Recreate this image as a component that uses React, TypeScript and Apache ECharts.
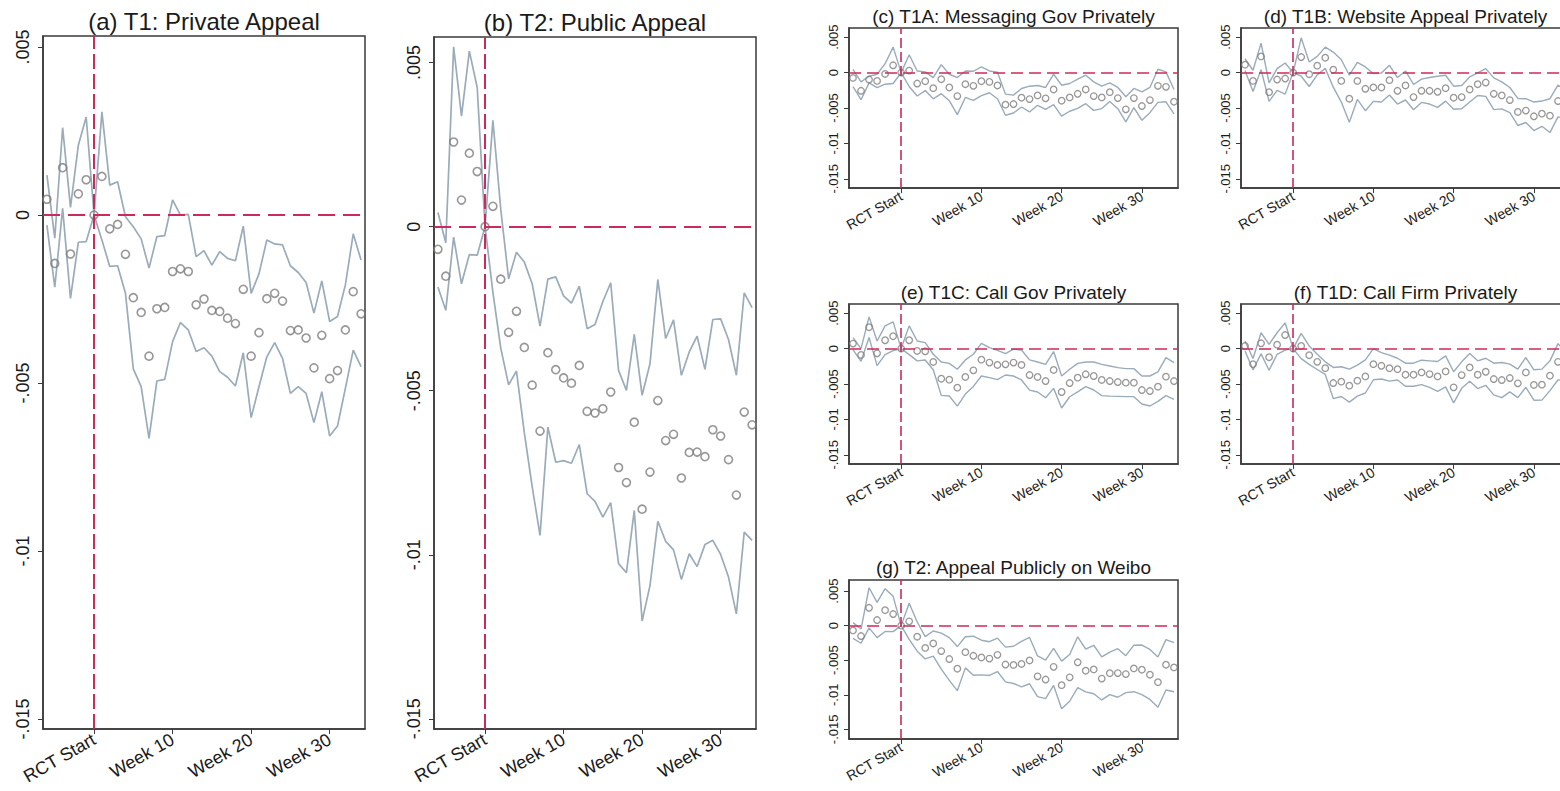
import React, { useEffect, useRef } from "react";
import * as echarts from "echarts";

// Weeks relative to RCT start
const weeks = [-6, -5, -4, -3, -2, -1, 0, 1, 2, 3, 4, 5, 6, 7, 8, 9, 10, 11, 12, 13, 14, 15, 16, 17, 18, 19, 20, 21, 22, 23, 24, 25, 26, 27, 28, 29, 30, 31, 32, 33, 34];

const xTickValues = [0, 10, 20, 30];
const xTickLabels = ["RCT Start", "Week 10", "Week 20", "Week 30"];
const yTickValues = [0.005, 0, -0.005, -0.01, -0.015];
const yTickLabels = [".005", "0", "-.005", "-.01", "-.015"];

// (a) T1: Private Appeal
const aPoint = [0.00047, -0.00144, 0.00141, -0.00116, 0.00063, 0.00105, 0, 0.00115, -0.00041, -0.00028, -0.00117, -0.00246, -0.0029, -0.0042, -0.00279, -0.00275, -0.00168, -0.0016, -0.00168, -0.00267, -0.0025, -0.00284, -0.00287, -0.00307, -0.00323, -0.00221, -0.0042, -0.0035, -0.00249, -0.00233, -0.00256, -0.00344, -0.00342, -0.00366, -0.00455, -0.00358, -0.00487, -0.00463, -0.00342, -0.00228, -0.00294];
const aUpper = [0.00119, -0.00069, 0.0026, 0.00023, 0.00208, 0.00292, 0, 0.00307, 0.00089, 0.00099, -0.00005, -0.00035, -0.00071, -0.00158, -0.00064, -0.00061, 0.00045, 0, 0.00002, -0.00124, -0.00106, -0.00149, -0.00109, -0.00129, -0.00136, -0.00033, -0.00233, -0.00175, -0.00074, -0.00086, -0.00089, -0.00151, -0.00171, -0.00201, -0.00292, -0.00196, -0.00317, -0.00302, -0.00208, -0.00056, -0.00134];
const aLower = [-0.0003, -0.00215, 0.0002, -0.00248, -0.00081, -0.00079, 0, -0.00074, -0.00153, -0.00151, -0.00233, -0.00458, -0.00511, -0.00665, -0.00494, -0.00489, -0.00377, -0.0032, -0.00342, -0.00406, -0.00395, -0.0042, -0.00466, -0.00483, -0.00509, -0.0041, -0.00603, -0.00511, -0.00422, -0.0038, -0.00427, -0.00531, -0.00511, -0.00531, -0.00618, -0.00526, -0.00658, -0.00628, -0.00516, -0.00402, -0.00451];

// (b) / (g) T2: Public Appeal
const bPoint = [-0.00069, -0.00151, 0.00258, 0.00081, 0.00224, 0.00168, 0, 0.00062, -0.0016, -0.00322, -0.00258, -0.00368, -0.00483, -0.00623, -0.00384, -0.00436, -0.00461, -0.00477, -0.00423, -0.00563, -0.00568, -0.00555, -0.00504, -0.00734, -0.0078, -0.00596, -0.00861, -0.00748, -0.0053, -0.00652, -0.00633, -0.00766, -0.00688, -0.00687, -0.00701, -0.00619, -0.00638, -0.0071, -0.00818, -0.00565, -0.00604];
const bUpper = [0.00043, -0.00049, 0.00548, 0.00337, 0.00535, 0.00424, 0, 0.00324, 0.00053, -0.00159, -0.00078, -0.00108, -0.00174, -0.00303, -0.0016, -0.00153, -0.00211, -0.00233, -0.00181, -0.00311, -0.00298, -0.00228, -0.00171, -0.00438, -0.00499, -0.00328, -0.00514, -0.00418, -0.00161, -0.00341, -0.00284, -0.00453, -0.00382, -0.00334, -0.00435, -0.00283, -0.00281, -0.00344, -0.00453, -0.00202, -0.00247];
const bLower = [-0.00184, -0.00255, -0.00032, -0.00174, -0.00085, -0.00087, 0, -0.002, -0.0037, -0.00482, -0.0044, -0.00628, -0.00792, -0.00941, -0.00611, -0.00718, -0.00713, -0.00721, -0.00664, -0.00814, -0.00837, -0.00885, -0.00841, -0.01027, -0.01055, -0.00865, -0.01202, -0.01094, -0.00898, -0.00959, -0.00985, -0.01075, -0.00997, -0.01036, -0.00969, -0.00956, -0.00999, -0.01068, -0.0118, -0.00931, -0.00956];

// (c) T1A: Messaging Gov Privately
const cPoint = [-0.00075, -0.00257, -0.00098, -0.00117, -0.00019, 0.00103, 0, 0.00028, -0.00154, -0.00122, -0.0022, -0.00093, -0.0021, -0.00332, -0.00164, -0.00187, -0.00122, -0.00131, -0.00182, -0.00453, -0.00444, -0.00355, -0.00374, -0.00322, -0.00364, -0.00238, -0.00397, -0.0035, -0.00299, -0.00238, -0.00332, -0.0035, -0.00276, -0.0036, -0.00519, -0.0036, -0.00472, -0.00388, -0.00187, -0.00201, -0.00411];
const cUpper = [0.00047, -0.00131, -0.00051, -0.00023, 0.00126, 0.0036, 0, 0.00252, 0.00023, 0.0001, -0.0007, 0.00112, -0.00023, -0.0007, 0.00023, 0.00019, 0.0008, 0.00023, 0.00005, -0.00304, -0.00318, -0.00224, -0.00192, -0.00182, -0.0021, -0.00023, -0.00178, -0.00154, -0.00093, -0.00037, -0.00131, -0.00192, -0.00145, -0.0021, -0.00341, -0.00224, -0.00271, -0.0021, 0.00047, 0.0001, -0.00238];
const cLower = [-0.00197, -0.00383, -0.00145, -0.00211, -0.00164, -0.00154, 0, -0.00196, -0.00331, -0.00254, -0.0037, -0.00298, -0.00397, -0.00594, -0.00351, -0.00393, -0.00324, -0.00285, -0.00369, -0.00602, -0.0057, -0.00486, -0.00556, -0.00462, -0.00518, -0.00453, -0.00616, -0.00546, -0.00505, -0.00439, -0.00533, -0.00508, -0.00407, -0.0051, -0.00697, -0.00496, -0.00673, -0.00566, -0.00421, -0.00412, -0.00584];

// (d) T1B: Website Appeal Privately
const dPoint = [0.00112, -0.00117, 0.00229, -0.00276, -0.00098, -0.00084, 0, 0.0022, -0.00023, 0.00098, 0.0021, 0.00042, -0.00117, -0.00369, -0.00117, -0.00229, -0.0021, -0.0021, -0.00107, -0.00257, -0.00182, -0.00346, -0.00257, -0.00257, -0.00271, -0.0022, -0.00355, -0.00346, -0.00238, -0.00164, -0.0014, -0.00299, -0.00322, -0.00388, -0.00556, -0.00537, -0.00617, -0.0058, -0.00608, -0.00402, -0.0045];
const dUpper = [0.00196, 0.00033, 0.00416, -0.00145, 0.00056, 0.00136, 0, 0.00491, 0.0015, 0.00229, 0.0036, 0.0029, 0.00182, -0.00037, 0.00145, 0.0008, -0.00014, -0.00005, 0.00103, -0.0007, 0.00023, -0.00168, -0.00093, -0.0007, -0.00051, -0.00037, -0.00192, -0.00182, -0.00061, -0.00005, 0.00056, -0.00075, -0.00131, -0.0021, -0.00365, -0.00369, -0.00416, -0.00402, -0.00369, -0.00178, -0.0025];
const dLower = [0.00028, -0.00267, 0.00042, -0.00407, -0.00252, -0.00304, 0, -0.00051, -0.00196, -0.00033, 0.0006, -0.00206, -0.00416, -0.00701, -0.00379, -0.00538, -0.00406, -0.00415, -0.00317, -0.00444, -0.00387, -0.00524, -0.00421, -0.00444, -0.00491, -0.00403, -0.00518, -0.0051, -0.00415, -0.00323, -0.00336, -0.00523, -0.00513, -0.00566, -0.00747, -0.00705, -0.00818, -0.00758, -0.00847, -0.00626, -0.0065];

// (e) T1C: Call Gov Privately
const ePoint = [0.00071, -0.0009, 0.00302, -0.00066, 0.00118, 0.00175, 0, 0.00118, -0.00033, -0.00038, -0.00189, -0.00425, -0.00439, -0.00552, -0.00401, -0.00307, -0.00156, -0.00198, -0.00231, -0.00222, -0.00198, -0.00231, -0.00373, -0.00401, -0.00458, -0.00302, -0.00613, -0.00486, -0.0041, -0.00363, -0.00387, -0.00443, -0.00458, -0.00472, -0.00481, -0.00481, -0.00585, -0.00599, -0.00538, -0.00396, -0.00458];
const eUpper = [0.00156, 0, 0.00448, 0.00108, 0.00321, 0.00377, 0, 0.00321, 0.00108, 0.00085, -0.0008, -0.00189, -0.00208, -0.00292, -0.0016, -0.0008, 0.00075, 0.00014, -0.00024, -0.00071, -0.00009, -0.00019, -0.0016, -0.00189, -0.00222, -0.00042, -0.00387, -0.00292, -0.00208, -0.00189, -0.00189, -0.00222, -0.00245, -0.00269, -0.00283, -0.00283, -0.00387, -0.00387, -0.0033, -0.00127, -0.00198];
const eLower = [-0.00014, -0.0018, 0.00156, -0.0024, -0.00085, -0.00027, 0, -0.00085, -0.00174, -0.00161, -0.00298, -0.00661, -0.0067, -0.00812, -0.00642, -0.00534, -0.00387, -0.0041, -0.00438, -0.00373, -0.00387, -0.00443, -0.00586, -0.00613, -0.00694, -0.00562, -0.00839, -0.0068, -0.00612, -0.00537, -0.00585, -0.00664, -0.00671, -0.00675, -0.00679, -0.00679, -0.00783, -0.00811, -0.00746, -0.00665, -0.00718];

// (f) T1D: Call Firm Privately
const fPoint = [0.00037, -0.0022, 0.00075, -0.00122, 0.00056, 0.00192, 0, 0.00037, -0.00093, -0.00187, -0.00276, -0.00486, -0.00467, -0.00523, -0.00453, -0.00393, -0.0022, -0.00243, -0.00276, -0.0029, -0.00369, -0.00369, -0.00336, -0.0036, -0.00393, -0.00322, -0.00547, -0.00374, -0.00266, -0.00369, -0.00327, -0.0043, -0.00444, -0.00416, -0.00491, -0.00336, -0.00514, -0.00509, -0.00383, -0.00187, -0.0025];
const fUpper = [0.00107, -0.0014, 0.00224, 0.00061, 0.00224, 0.00364, 0, 0.00215, 0.00037, -0.00079, -0.00187, -0.00266, -0.00257, -0.0029, -0.00234, -0.00159, 0, -0.00056, -0.00093, -0.00136, -0.00206, -0.00206, -0.00164, -0.00173, -0.00182, -0.00103, -0.00327, -0.00187, -0.0007, -0.00173, -0.00136, -0.00206, -0.00196, -0.0022, -0.0029, -0.00126, -0.00299, -0.0029, -0.00173, 0.0007, -0.0005];
const fLower = [-0.00033, -0.003, -0.00074, -0.00305, -0.0008, -0.0002, 0, -0.00141, -0.00223, -0.00295, -0.00365, -0.00706, -0.00677, -0.00756, -0.00672, -0.00627, -0.0044, -0.0043, -0.00459, -0.00444, -0.00532, -0.00532, -0.00508, -0.00547, -0.00604, -0.00541, -0.00767, -0.00561, -0.00462, -0.00565, -0.00518, -0.00654, -0.00692, -0.00612, -0.00692, -0.00546, -0.00729, -0.00728, -0.00593, -0.00444, -0.0045];

const FONT = "'Liberation Sans', Arial, Helvetica, sans-serif";
const CI_COLOR = "#9aabba";
const DOT_COLOR = "#7d7d7d";
const REF_COLOR = "#cc2a5a";
const FRAME = "#3a3a3a";

const panels = [
  { title: "(a) T1: Private Appeal", pt: aPoint, up: aUpper, lo: aLower, left: 43, top: 36, width: 322, height: 693, ymin: -0.0153, ymax: 0.00533, big: true, titleY: 21 },
  { title: "(b) T2: Public Appeal", pt: bPoint, up: bUpper, lo: bLower, left: 434, top: 37, width: 322, height: 692, ymin: -0.01531, ymax: 0.00578, big: true, titleY: 22 },
  { title: "(c) T1A: Messaging Gov Privately", pt: cPoint, up: cUpper, lo: cLower, left: 849, top: 28, width: 329, height: 160, ymin: -0.0163, ymax: 0.0063, big: false, titleY: 16 },
  { title: "(d) T1B: Website Appeal Privately", pt: dPoint, up: dUpper, lo: dLower, left: 1241, top: 28, width: 329, height: 160, ymin: -0.0163, ymax: 0.0063, big: false, titleY: 16 },
  { title: "(e) T1C: Call Gov Privately", pt: ePoint, up: eUpper, lo: eLower, left: 849, top: 304, width: 329, height: 160, ymin: -0.0163, ymax: 0.0063, big: false, titleY: 292 },
  { title: "(f) T1D: Call Firm Privately", pt: fPoint, up: fUpper, lo: fLower, left: 1241, top: 304, width: 329, height: 160, ymin: -0.0163, ymax: 0.0063, big: false, titleY: 292 },
  { title: "(g) T2: Appeal Publicly on Weibo", pt: bPoint, up: bUpper, lo: bLower, left: 849, top: 580, width: 329, height: 159, ymin: -0.0164, ymax: 0.0066, big: false, titleY: 567 },
];

function labelFor(values: number[], labels: string[], v: number) {
  for (let i = 0; i < values.length; i++) {
    if (Math.abs(values[i] - v) < 1e-9) return labels[i];
  }
  return "";
}

function buildOption() {
  const grid: any[] = [];
  const xAxis: any[] = [];
  const yAxis: any[] = [];
  const series: any[] = [];
  const graphic: any[] = [];

  panels.forEach((p, i) => {
    const big = p.big;
    grid.push({
      left: p.left,
      top: p.top,
      width: p.width,
      height: p.height,
      show: true,
      borderColor: FRAME,
      borderWidth: 1.5,
      backgroundColor: "#ffffff",
      containLabel: false,
    });
    xAxis.push({
      type: "value",
      gridIndex: i,
      min: -6.5,
      max: 34.5,
      axisLine: { show: true, onZero: false, lineStyle: { color: FRAME, width: 1.5 } },
      axisTick: { show: true, length: 5, customValues: xTickValues, lineStyle: { color: FRAME, width: 1 } },
      axisLabel: {
        customValues: xTickValues,
        formatter: (v: number) => labelFor(xTickValues, xTickLabels, v),
        rotate: 30,
        margin: big ? 9 : 7,
        fontSize: big ? 18 : 14,
        color: "#1a1a1a",
        fontFamily: FONT,
      },
      splitLine: { show: false },
    });
    yAxis.push({
      type: "value",
      gridIndex: i,
      min: p.ymin,
      max: p.ymax,
      axisLine: { show: true, onZero: false, lineStyle: { color: FRAME, width: 1.5 } },
      axisTick: { show: true, length: 5, customValues: yTickValues, lineStyle: { color: FRAME, width: 1 } },
      axisLabel: {
        customValues: yTickValues,
        formatter: (v: number) => labelFor(yTickValues, yTickLabels, v),
        rotate: 90,
        margin: big ? 11 : 9,
        fontSize: big ? 18 : 13,
        color: "#1a1a1a",
        fontFamily: FONT,
      },
      splitLine: { show: false },
    });

    // reference lines at RCT start and zero
    series.push({
      type: "line",
      xAxisIndex: i,
      yAxisIndex: i,
      data: [],
      z: 1,
      markLine: {
        silent: true,
        symbol: ["none", "none"],
        label: { show: false },
        data: [
          { xAxis: 0, lineStyle: { color: REF_COLOR, width: big ? 2 : 1.6, type: big ? [15, 5] : [10, 4] } },
          { yAxis: 0, lineStyle: { color: REF_COLOR, width: big ? 2 : 1.6, type: big ? [17, 8] : [12, 6] } },
        ],
      },
    });

    const upData = weeks.map((w, k) => [w, p.up[k]]);
    const loData = weeks.map((w, k) => [w, p.lo[k]]);
    const ptData = weeks.map((w, k) => [w, p.pt[k]]);

    [upData, loData].forEach((d) => {
      series.push({
        type: "line",
        xAxisIndex: i,
        yAxisIndex: i,
        data: d,
        showSymbol: false,
        symbol: "none",
        z: 2,
        lineStyle: { color: CI_COLOR, width: big ? 1.7 : 1.4 },
        silent: true,
      });
    });

    series.push({
      type: "scatter",
      xAxisIndex: i,
      yAxisIndex: i,
      data: ptData,
      symbol: "circle",
      symbolSize: big ? 8 : 6.5,
      z: 3,
      itemStyle: { color: "rgba(255,255,255,0)", borderColor: DOT_COLOR, borderWidth: big ? 1.6 : 1.3 },
      silent: true,
    });

    graphic.push({
      type: "text",
      x: p.left + p.width / 2,
      y: p.titleY,
      style: {
        text: p.title,
        fontSize: big ? 24 : 19,
        fontFamily: FONT,
        fill: "#1a1a1a",
        align: "center",
        verticalAlign: "middle",
      },
    });
  });

  return {
    animation: false,
    backgroundColor: "#ffffff",
    grid,
    xAxis,
    yAxis,
    series,
    graphic,
  };
}

export default function App() {
  const ref = useRef<HTMLDivElement>(null);
  useEffect(() => {
    if (!ref.current) return;
    const chart = echarts.init(ref.current, undefined, { renderer: "svg" });
    chart.setOption(buildOption());
    return () => chart.dispose();
  }, []);
  return (
    <div style={{ position: "absolute", left: 0, top: 0, width: 1560, height: 791, overflow: "hidden", background: "#fff" }}>
      <div ref={ref} style={{ width: 1600, height: 791 }} />
    </div>
  );
}
